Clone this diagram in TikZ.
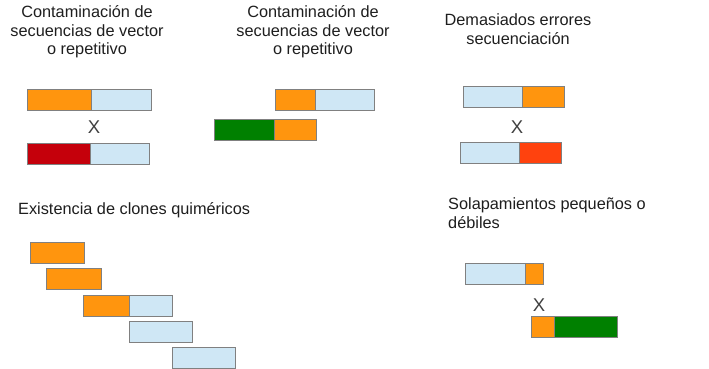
\documentclass[tikz,border=0pt]{standalone}
\usepackage{fontspec}
\setmainfont{Liberation Sans}
\usetikzlibrary{positioning}

\definecolor{naranja}{RGB}{255,149,14}
\definecolor{celeste}{RGB}{207,231,245}
\definecolor{rojo}{RGB}{197,0,11}
\definecolor{verde}{RGB}{0,128,0}
\definecolor{rojizo}{RGB}{255,66,14}
\definecolor{borde}{RGB}{128,128,128}
\definecolor{texto}{RGB}{30,30,30}

\begin{document}
\begin{tikzpicture}[
    x=1pt, y=-1pt,
    seg/.style={rectangle, draw=borde, line width=0.8pt, minimum height=21pt, inner sep=0pt, outer sep=0pt},
    titulo/.style={align=center, font=\fontsize{16.3}{18.5}\selectfont, text=texto, inner sep=0pt},
    cruz/.style={font=\fontsize{18.5}{20}\selectfont, text=texto!85, inner sep=0pt}
]
    \useasboundingbox (0,0) rectangle (709,369);

    % vector o repetitivo (1)
    \node[titulo] (tit1) at (87,32) {Contaminación de\\secuencias de vector\\o repetitivo};
    \node[seg, fill=naranja, minimum width=64pt, anchor=north west] (v1a) at (27,89) {};
    \node[seg, fill=celeste, minimum width=60pt, right=0pt of v1a] (v1b) {};
    \node[cruz] (x1) at (94,127) {X};
    \node[seg, fill=rojo, minimum width=63pt, anchor=north west] (v2a) at (27,143.5) {};
    \node[seg, fill=celeste, minimum width=59pt, right=0pt of v2a] (v2b) {};

    % vector o repetitivo (2)
    \node[titulo] (tit2) at (313,32) {Contaminación de\\secuencias de vector\\o repetitivo};
    \node[seg, fill=naranja, minimum width=40pt, anchor=north west] (w1a) at (275,89) {};
    \node[seg, fill=celeste, minimum width=59pt, right=0pt of w1a] (w1b) {};
    \node[seg, fill=verde, minimum width=60pt, anchor=north west] (w2a) at (214,119) {};
    \node[seg, fill=naranja, minimum width=42pt, right=0pt of w2a] (w2b) {};

    % errores de secuenciacion
    \node[titulo] (tit3) at (518,29) {Demasiados errores\\secuenciación};
    \node[seg, fill=celeste, minimum width=59pt, anchor=north west] (e1a) at (463,86) {};
    \node[seg, fill=naranja, minimum width=42pt, right=0pt of e1a] (e1b) {};
    \node[cruz] (x3) at (517,127) {X};
    \node[seg, fill=celeste, minimum width=59pt, anchor=north west] (e2a) at (460,142) {};
    \node[seg, fill=rojizo, minimum width=42pt, right=0pt of e2a] (e2b) {};

    % clones quimericos
    \node[titulo, anchor=west] (tit4) at (18,210) {Existencia de clones quiméricos};
    \node[seg, fill=naranja, minimum width=54pt, anchor=north west] (q1) at (30,242) {};
    \node[seg, fill=naranja, minimum width=55pt, anchor=north west] (q2) at (46,268) {};
    \node[seg, fill=naranja, minimum width=46pt, anchor=north west] (q3a) at (83,295) {};
    \node[seg, fill=celeste, minimum width=43pt, right=0pt of q3a] (q3b) {};
    \node[seg, fill=celeste, minimum width=63pt, anchor=north west] (q4) at (129,321) {};
    \node[seg, fill=celeste, minimum width=63pt, anchor=north west] (q5) at (172,347) {};

    % solapamientos
    \node[titulo, align=left, anchor=west] (tit5) at (448,213) {Solapamientos pequeños o\\débiles};
    \node[seg, fill=celeste, minimum width=60pt, anchor=north west] (s1a) at (465,263) {};
    \node[seg, fill=naranja, minimum width=18pt, right=0pt of s1a] (s1b) {};
    \node[cruz] (x5) at (539,305) {X};
    \node[seg, fill=naranja, minimum width=23pt, anchor=north west] (s2a) at (531,316) {};
    \node[seg, fill=verde, minimum width=63pt, right=0pt of s2a] (s2b) {};
\end{tikzpicture}
\end{document}
